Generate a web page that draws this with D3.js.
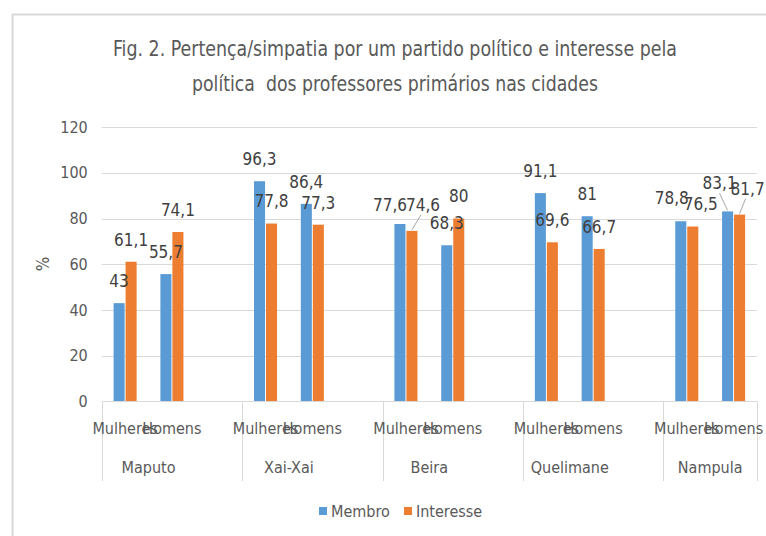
<!DOCTYPE html>
<html><head><meta charset="utf-8">
<script src="https://cdn.jsdelivr.net/npm/d3@7"></script>
<style>
html,body{margin:0;padding:0;background:#fff;}
svg{display:block;}
text{font-family:"Liberation Sans Narrow","Arial Narrow","DejaVu Sans Condensed","Liberation Sans",sans-serif;}
.title{white-space:pre;}
</style></head>
<body>
<svg id="c" width="766" height="536"></svg>
<script>
// ---- data ----
const cities = ["Maputo", "Xai-Xai", "Beira", "Quelimane", "Nampula"];
const sexes = ["Mulheres", "Homens"];
const seriesNames = ["Membro", "Interesse"];
// values in order city x sex
const membro    = [43, 55.7, 96.3, 86.4, 77.6, 68.3, 91.1, 81, 78.8, 83.1];
const interesse = [61.1, 74.1, 77.8, 77.3, 74.6, 80, 69.6, 66.7, 76.5, 81.7];
const yTicks = [0, 20, 40, 60, 80, 100, 120];
const titleLines = ["Fig. 2. Pertença/simpatia por um partido político e interesse pela",
                    "política  dos professores primários nas cidades"];
const yTitle = "%";
// label nudges (px) where the original chart moved overlapping labels, [membro, interesse]
const nudgeDx = [[0,0,0,0,-10,0,0,0,-9,-8],[0,0,0,0,11,0,0,0,8,8]];
const nudgeDy = [[0,0,0,0,3,0,0,0,-1,-6],[0,0,0,0,-4,0,0,0,0,-4]];
const leader  = [[0,0,0,0,0,0,0,0,0,1],[0,0,0,0,1,0,0,0,0,1]];

const colors = {"Membro":"#5b9bd5","Interesse":"#ed7d31"};
const svg = d3.select("#c");

// chart border
svg.append("rect").attr("x",12.5).attr("y",14.5).attr("width",800).attr("height",600)
  .attr("fill","none").attr("stroke","#d9d9d9").attr("stroke-width",2);

// slots: each city has Mulheres, Homens, and a spacer (except last)
const slots = [];
cities.forEach((c,i)=>{
  sexes.forEach(s=>slots.push(c+"|"+s));
  if(i<cities.length-1) slots.push(c+"|_");
});
const left=101.7, right=757;
const x = d3.scaleBand().domain(slots).range([left,right]).paddingInner(0).paddingOuter(0);
const xi = d3.scaleBand().domain(seriesNames).range([0,x.bandwidth()]).paddingInner(0.08).paddingOuter(0.99);
const y = d3.scaleLinear().domain([0,120]).range([401.5,127]);

// gridlines
svg.append("g").selectAll("line").data(yTicks.filter(t=>t>0)).join("line")
  .attr("x1",left).attr("x2",right).attr("y1",d=>Math.round(y(d))+0.5).attr("y2",d=>Math.round(y(d))+0.5)
  .attr("stroke","#d9d9d9").attr("stroke-width",1);

// y axis labels
const yAxis = d3.axisLeft(y).tickValues(yTicks).tickSize(0).tickPadding(14);
const ya = svg.append("g").attr("transform",`translate(${left},0)`).call(yAxis);
ya.select(".domain").remove();
ya.selectAll("text").attr("font-size",16).attr("fill","#595959")
  .attr("font-family",null);

// y title
svg.append("text").attr("transform","translate(49,264) rotate(-90)")
  .attr("text-anchor","middle").attr("font-size",17).attr("fill","#595959").text(yTitle);

// bars
const rows = [];
cities.forEach((c,ci)=>sexes.forEach((s,si)=>{
  const k = ci*2+si;
  seriesNames.forEach((sn,ni)=>{
    const v = ni===0 ? membro[k] : interesse[k];
    rows.push({city:c,sex:s,series:sn,value:v,k,ni});
  });
}));
svg.append("g").selectAll("rect").data(rows).join("rect")
  .attr("x",d=>x(d.city+"|"+d.sex)+xi(d.series))
  .attr("width",xi.bandwidth())
  .attr("y",d=>y(d.value)).attr("height",d=>y(0)-y(d.value))
  .attr("fill",d=>colors[d.series]);

// axis line + separators
svg.append("line").attr("x1",left).attr("x2",right).attr("y1",401.5).attr("y2",401.5)
  .attr("stroke","#d9d9d9").attr("stroke-width",1);
const seps = cities.map(c=>x(c+"|Mulheres")).concat([right]);
svg.append("g").selectAll("line").data(seps).join("line")
  .attr("x1",d=>Math.round(d)+0.5).attr("x2",d=>Math.round(d)+0.5).attr("y1",401.5).attr("y2",481)
  .attr("stroke","#d9d9d9").attr("stroke-width",1);

// category labels
const catRows = [];
cities.forEach(c=>sexes.forEach(s=>catRows.push({c,s})));
svg.append("g").selectAll("text").data(catRows).join("text")
  .attr("x",d=>x(d.c+"|"+d.s)+x.bandwidth()/2).attr("y",428).attr("dy","0.35em")
  .attr("text-anchor","middle").attr("font-size",16).attr("fill","#595959").text(d=>d.s);
svg.append("g").selectAll("text").data(cities).join("text")
  .attr("x",c=>(x(c+"|Mulheres")+x(c+"|Homens")+x.bandwidth())/2).attr("y",467).attr("dy","0.35em")
  .attr("text-anchor","middle").attr("font-size",16).attr("fill","#595959").text(c=>c);

// data labels
const fmt = v => String(v).replace(".",",");
const lab = svg.append("g");
rows.forEach(d=>{
  const cx = x(d.city+"|"+d.sex)+xi(d.series)+xi.bandwidth()/2;
  const top = y(d.value);
  const lx = cx + nudgeDx[d.ni][d.k];
  const ly = top - 22 + nudgeDy[d.ni][d.k];
  if(leader[d.ni][d.k]){
    lab.append("line").attr("x1",lx + (d.ni===0?0:-2)).attr("y1",ly+10)
      .attr("x2",cx).attr("y2",top-1).attr("stroke","#a6a6a6").attr("stroke-width",1);
  }
  lab.append("text").attr("x",lx).attr("y",ly).attr("dy","0.35em").attr("text-anchor","middle")
    .attr("font-size",17).attr("fill","#404040").text(fmt(d.value));
});

// title
svg.append("g").selectAll("text").data(titleLines).join("text")
  .attr("class","title")
  .attr("x",395).attr("y",(d,i)=>48+i*35).attr("dy","0.35em").attr("text-anchor","middle")
  .attr("font-size",22).attr("fill","#595959")
  .attr("textLength",(d,i)=>i===0?564:406).attr("lengthAdjust","spacingAndGlyphs")
  .text(d=>d);

// legend
const lg = svg.append("g");
const legX = [319, 404];
seriesNames.forEach((sn,i)=>{
  lg.append("rect").attr("x",legX[i]).attr("y",507).attr("width",8).attr("height",8).attr("fill",colors[sn]);
  lg.append("text").attr("x",legX[i]+12).attr("y",511).attr("dy","0.35em")
    .attr("font-size",16).attr("fill","#595959").text(sn);
});
</script>
</body></html>
